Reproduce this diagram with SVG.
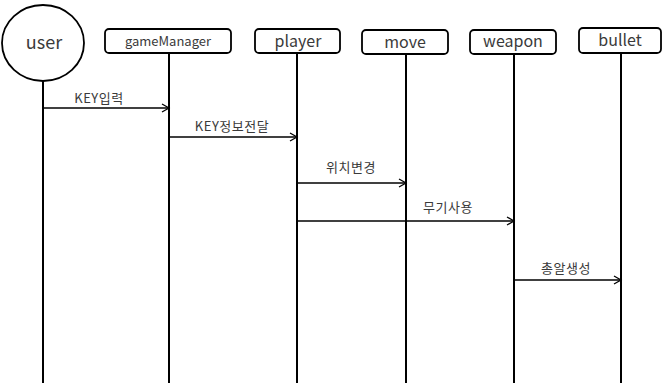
<svg xmlns="http://www.w3.org/2000/svg" width="663" height="388" viewBox="0 0 663 388">
<defs>
<style>
.box{fill:#fff;stroke:#000;stroke-width:1.8}
.life{stroke:#000;stroke-width:2;fill:none}
.msg{stroke:#000;stroke-width:1.3;fill:none}
.t{font-family:"Noto Sans CJK KR","Noto Sans",sans-serif;fill:#3a3a3a;text-anchor:middle}
.lbl{font-size:13px;letter-spacing:0.5px}
.nm{font-size:16px}
</style>
<marker id="arr" markerWidth="10" markerHeight="10" refX="8" refY="5" orient="auto" markerUnits="userSpaceOnUse">
<path d="M1,1 L8,5 L1,9" fill="none" stroke="#000" stroke-width="1.3"/>
</marker>
</defs>
<rect width="663" height="388" fill="#fff"/>
<g id="lifelines">
<line class="life" x1="43" y1="80" x2="43" y2="383" stroke="#445"/>
<line class="life" x1="169" y1="53" x2="169" y2="383"/>
<line class="life" x1="297" y1="53" x2="297" y2="383"/>
<line class="life" x1="406" y1="54" x2="406" y2="383"/>
<line class="life" x1="514" y1="54" x2="514" y2="383"/>
<line class="life" x1="621" y1="53" x2="621" y2="383"/>
</g>
<g id="user">
<ellipse cx="43" cy="43" rx="41" ry="38" class="box"/>
<text class="t" x="44" y="49" font-size="18">user</text>
</g>
<g id="gameManager">
<rect class="box" x="105" y="29" width="126" height="24" rx="4"/>
<text class="t" x="168" y="46" font-size="13">gameManager</text>
</g>
<g id="player">
<rect class="box" x="255" y="29" width="85" height="24" rx="4"/>
<text class="t nm" x="298" y="47">player</text>
</g>
<g id="move">
<rect class="box" x="362" y="30" width="86" height="24" rx="4"/>
<text class="t nm" x="405" y="48">move</text>
</g>
<g id="weapon">
<rect class="box" x="470" y="30" width="86" height="24" rx="4"/>
<text class="t nm" x="513" y="47">weapon</text>
</g>
<g id="bullet">
<rect class="box" x="579" y="28" width="82" height="25" rx="4"/>
<text class="t nm" x="620" y="46">bullet</text>
</g>
<g id="connectors">
<line class="msg" x1="43" y1="108" x2="169" y2="108" marker-end="url(#arr)"/>
<text class="t lbl" x="99" y="103">KEY입력</text>
<line class="msg" x1="169" y1="137" x2="297" y2="137" marker-end="url(#arr)"/>
<text class="t lbl" x="232" y="131">KEY정보전달</text>
<line class="msg" x1="297" y1="183" x2="406" y2="183" marker-end="url(#arr)"/>
<text class="t lbl" x="351" y="172">위치변경</text>
<line class="msg" x1="297" y1="221" x2="514" y2="221" marker-end="url(#arr)"/>
<text class="t lbl" x="448" y="212">무기사용</text>
<line class="msg" x1="514" y1="280" x2="621" y2="280" marker-end="url(#arr)"/>
<text class="t lbl" x="566" y="273">총알생성</text>
</g>
</svg>
